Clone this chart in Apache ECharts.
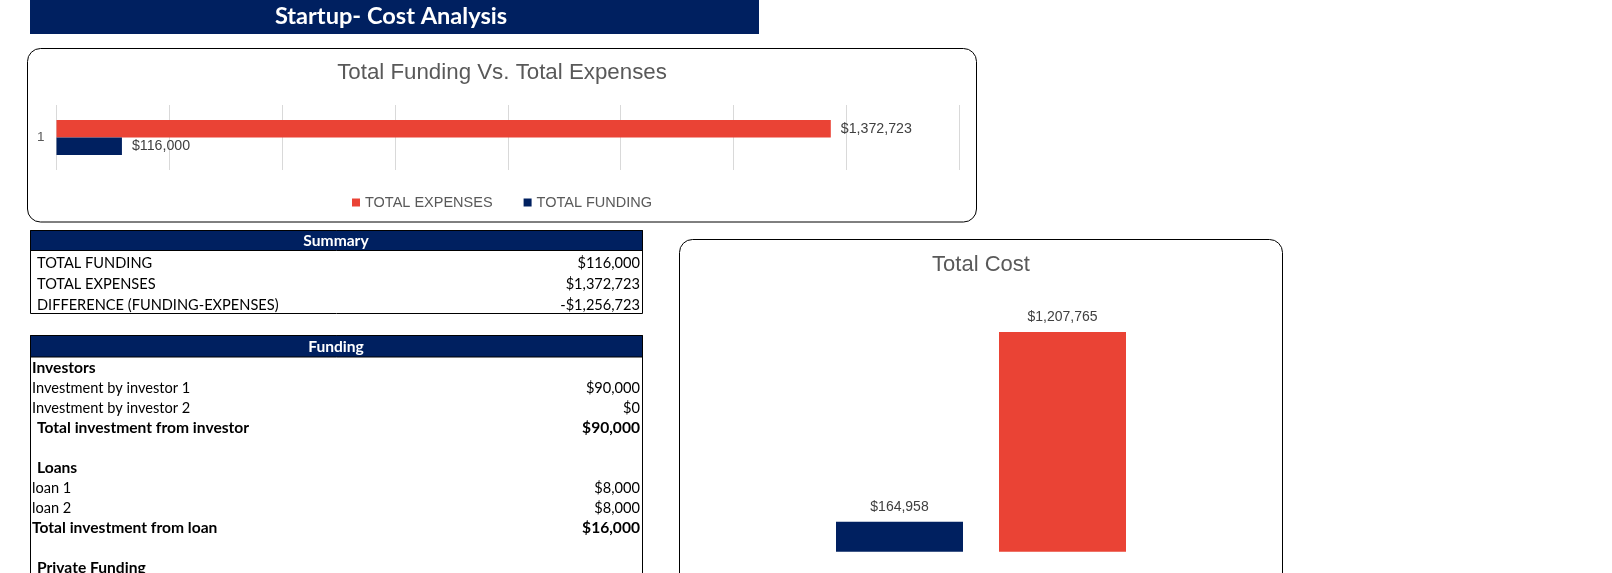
<!DOCTYPE html>
<html><head><meta charset="utf-8">
<script src="https://cdn.jsdelivr.net/npm/echarts@6/dist/echarts.min.js"></script>
<style>html,body{margin:0;padding:0;background:#fff}#c{width:1612px;height:573px}</style>
</head><body><div id="c"></div>
<script>
// ---------- data ----------
const pageTitle = 'Startup- Cost Analysis';
const chart1Title = 'Total Funding Vs. Total Expenses';
const chart1Categories = ['1'];
const chart1SeriesNames = ['TOTAL EXPENSES', 'TOTAL FUNDING'];
const totalExpenses = [1372723];
const totalFunding = [116000];
const chart1AxisMax = 1600000;
const chart1AxisStep = 200000;

const chart2Title = 'Total Cost';
const chart2Categories = ['Start-up Cost', 'Operating Cost'];
const chart2Values = [164958, 1207765];
const chart2AxisMax = 1400000;

const summaryTitle = 'Summary';
const summaryLabels = ['TOTAL FUNDING', 'TOTAL EXPENSES', 'DIFFERENCE (FUNDING-EXPENSES)'];
const summaryValues = [116000, 1372723, -1256723];

const fundingTitle = 'Funding';
const fundingLabels = ['Investors', 'Investment by investor 1', 'Investment by investor 2',
  'Total investment from investor', '', 'Loans', 'loan 1', 'loan 2',
  'Total investment from loan', '', 'Private Funding'];
const fundingValues = [null, 90000, 0, 90000, null, null, 8000, 8000, 16000, null, null];

// ---------- styling / rendering ----------
const NAVY = '#002060';
const RED = '#EA4335';
const GREY_TXT = '#595959';
const LABEL_TXT = '#404040';
const ARIAL = '"Liberation Sans", Arial, sans-serif';
const CAL = 'Lato, "Open Sans", sans-serif';
const fmt = v => (v < 0 ? '-' : '') + '$' + Math.abs(v).toLocaleString('en-US');

const boldRows = new Set([0, 3, 5, 8, 10]);
const indentRows = new Set([3, 5, 10]);

const g = [];
// page title bar
g.push({type: 'rect', shape: {x: 30, y: 0, width: 729, height: 34}, style: {fill: NAVY}});
g.push({type: 'text', x: 391, y: 16, style: {text: pageTitle, fill: '#fff', fontFamily: CAL,
  fontWeight: 'bold', fontSize: 23.6, align: 'center', verticalAlign: 'middle',
  textAlign: 'center', textVerticalAlign: 'middle'}});
// chart boxes
g.push({type: 'rect', shape: {x: 27.5, y: 48.5, width: 949, height: 173.5, r: 13},
  style: {fill: 'none', stroke: '#000', lineWidth: 1}});
g.push({type: 'rect', shape: {x: 679.5, y: 239.5, width: 603, height: 400, r: 13},
  style: {fill: 'none', stroke: '#000', lineWidth: 1}});

function txt(x, y, t, opts) {
  g.push({type: 'text', x: x, y: y, style: Object.assign({text: t, fill: '#000', fontFamily: CAL,
    fontSize: 14.6, verticalAlign: 'middle', textVerticalAlign: 'middle',
    align: 'left', textAlign: 'left'}, opts || {})});
}
const BOLD = {fontWeight: 'bold', fontSize: 15.6};
// summary table
g.push({type: 'rect', shape: {x: 30.5, y: 230.5, width: 612, height: 83}, style: {fill: 'none', stroke: '#000', lineWidth: 1}});
g.push({type: 'rect', shape: {x: 30.5, y: 230.5, width: 612, height: 20}, style: {fill: NAVY, stroke: '#000', lineWidth: 1}});
txt(336, 241, summaryTitle, Object.assign({fill: '#fff', align: 'center', textAlign: 'center'}, BOLD));
summaryLabels.forEach((l, i) => {
  const y = 263 + i * 21;
  txt(37, y, l);
  txt(640, y, fmt(summaryValues[i]), {align: 'right', textAlign: 'right'});
});
// funding table
g.push({type: 'rect', shape: {x: 30.5, y: 335.5, width: 612, height: 300}, style: {fill: 'none', stroke: '#000', lineWidth: 1}});
g.push({type: 'rect', shape: {x: 30.5, y: 335.5, width: 612, height: 21.5}, style: {fill: NAVY, stroke: '#000', lineWidth: 1}});
txt(336, 346.5, fundingTitle, Object.assign({fill: '#fff', align: 'center', textAlign: 'center'}, BOLD));
fundingLabels.forEach((l, i) => {
  const y = 368 + i * 20;
  const st = boldRows.has(i) ? BOLD : {};
  if (l) txt(indentRows.has(i) ? 37 : 32, y, l, st);
  if (fundingValues[i] !== null) txt(640, y, fmt(fundingValues[i]), Object.assign({align: 'right', textAlign: 'right'}, st));
});

const option = {
  animation: false,
  backgroundColor: '#fff',
  title: [
    {text: chart1Title, left: 502, top: 62, textAlign: 'center', padding: 0,
      textStyle: {color: GREY_TXT, fontFamily: ARIAL, fontWeight: 'normal', fontSize: 22.3}},
    {text: chart2Title, left: 981, top: 254, textAlign: 'center', padding: 0,
      textStyle: {color: GREY_TXT, fontFamily: ARIAL, fontWeight: 'normal', fontSize: 22}}
  ],
  legend: {
    data: chart1SeriesNames, left: 352, top: 195, itemWidth: 8, itemHeight: 8, itemGap: 31,
    icon: 'rect', padding: 0,
    textStyle: {color: GREY_TXT, fontFamily: ARIAL, fontSize: 14.5}
  },
  grid: [
    {left: 56.5, top: 105, width: 902.5, height: 65},
    {left: 818, top: 297, width: 326, height: 254.7}
  ],
  xAxis: [
    {type: 'value', gridIndex: 0, min: 0, max: chart1AxisMax, interval: chart1AxisStep,
      axisLabel: {show: false}, axisLine: {show: false}, axisTick: {show: false},
      splitLine: {show: true, lineStyle: {color: '#D9D9D9', width: 1}}},
    {type: 'category', gridIndex: 1, data: chart2Categories,
      axisLabel: {show: false}, axisLine: {show: false}, axisTick: {show: false}}
  ],
  yAxis: [
    {type: 'category', gridIndex: 0, data: chart1Categories,
      axisLine: {show: false}, axisTick: {show: false},
      axisLabel: {color: GREY_TXT, fontFamily: ARIAL, fontSize: 13.5, margin: 12, align: 'right'}},
    {type: 'value', gridIndex: 1, min: 0, max: chart2AxisMax,
      axisLabel: {show: false}, axisLine: {show: false}, axisTick: {show: false}, splitLine: {show: false}}
  ],
  series: [
    {name: chart1SeriesNames[0], type: 'bar', xAxisIndex: 0, yAxisIndex: 0, data: totalExpenses,
      barWidth: 17.5, barGap: '0%', itemStyle: {color: RED},
      label: {show: true, position: 'right', distance: 10, color: LABEL_TXT, fontFamily: ARIAL, fontSize: 14.2,
        formatter: p => fmt(p.value)}},
    {name: chart1SeriesNames[1], type: 'bar', xAxisIndex: 0, yAxisIndex: 0, data: totalFunding,
      barWidth: 17.5, barGap: '0%', itemStyle: {color: NAVY},
      label: {show: true, position: 'right', distance: 10, color: LABEL_TXT, fontFamily: ARIAL, fontSize: 14.2,
        formatter: p => fmt(p.value)}},
    {name: chart2Title, type: 'bar', xAxisIndex: 1, yAxisIndex: 1, data: chart2Values, barWidth: 127,
      itemStyle: {color: p => [NAVY, RED][p.dataIndex]},
      label: {show: true, position: 'top', distance: 8, color: LABEL_TXT, fontFamily: ARIAL, fontSize: 14,
        formatter: p => fmt(p.value)}}
  ],
  graphic: {elements: g}
};
const chart = echarts.init(document.getElementById('c'), null, {renderer: 'canvas'});
chart.setOption(option);
</script>
</body></html>
